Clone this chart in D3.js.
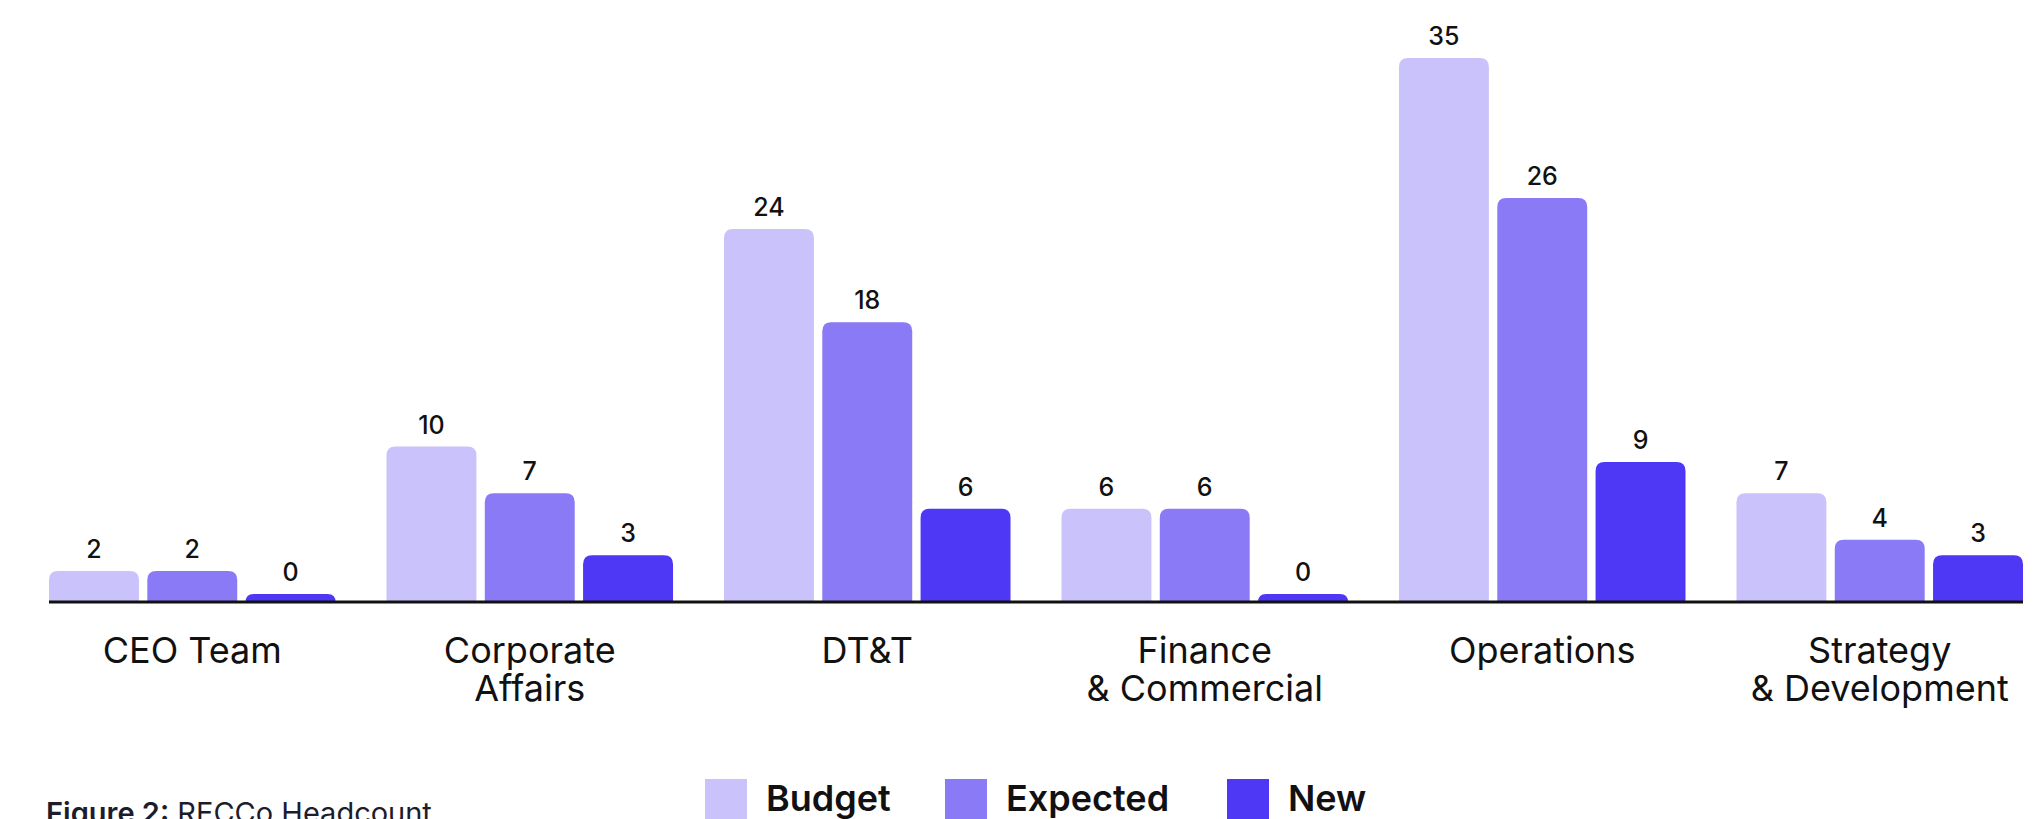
<!DOCTYPE html>
<html>
<head>
<meta charset="utf-8">
<script src="https://cdn.jsdelivr.net/npm/d3@7"></script>
<style>
  html, body { margin: 0; padding: 0; background: #fff; }
  svg { display: block; font-family: Inter, "Noto Sans", sans-serif; }
</style>
</head>
<body>
<svg id="chart" width="2043" height="819"></svg>
<script>
// headcount by business unit
const categories = ["CEO Team", "Corporate Affairs", "DT&T", "Finance & Commercial", "Operations", "Strategy & Development"];
const categoryLines = [["CEO Team"], ["Corporate", "Affairs"], ["DT&T"], ["Finance", "& Commercial"], ["Operations"], ["Strategy", "& Development"]];
const seriesNames = ["Budget", "Expected", "New"];
const budget = [2, 10, 24, 6, 35, 7];
const expected = [2, 7, 18, 6, 26, 4];
const newHires = [0, 3, 6, 0, 9, 3];
const colors = ["#cac3fb", "#8b7af6", "#4e37f5"];

const svg = d3.select("#chart");
const baseY = 602;

const x0 = d3.scaleBand()
    .domain(categories)
    .range([49, 2023])
    .paddingInner(0.151)
    .paddingOuter(0);

const x1 = d3.scaleBand()
    .domain(seriesNames)
    .range([0, x0.bandwidth()])
    .paddingInner(0.085);

const y = d3.scaleLinear()
    .domain([0, 35])
    .range([baseY, 58]);

const rows = categories.map((c, i) => ({
    cat: c,
    values: [budget[i], expected[i], newHires[i]]
}));

// bar with rounded top corners
function topRounded(x, yTop, w, h, r) {
    r = Math.min(r, h, w / 2);
    return `M${x},${yTop + h}V${yTop + r}Q${x},${yTop} ${x + r},${yTop}` +
        `H${x + w - r}Q${x + w},${yTop} ${x + w},${yTop + r}V${yTop + h}Z`;
}

const groups = svg.append("g").selectAll("g")
    .data(rows)
    .join("g")
    .attr("transform", d => `translate(${x0(d.cat)},0)`);

const minStub = 8;

groups.selectAll("path")
    .data(d => d.values.map((v, j) => ({ v, name: seriesNames[j], j })))
    .join("path")
    .attr("fill", d => colors[d.j])
    .attr("d", d => {
        const top = Math.min(y(d.v), baseY - minStub);
        return topRounded(x1(d.name), top, x1.bandwidth(), baseY - top, 9);
    });

groups.selectAll("text.val")
    .data(d => d.values.map((v, j) => ({ v, name: seriesNames[j], j })))
    .join("text")
    .attr("class", "val")
    .attr("x", d => x1(d.name) + x1.bandwidth() / 2)
    .attr("y", d => Math.min(y(d.v), baseY - minStub) - 13)
    .attr("text-anchor", "middle")
    .attr("font-size", 25)
    .attr("font-weight", 500)
    .attr("fill", "#111")
    .text(d => d.v);

// baseline
svg.append("line")
    .attr("x1", 49).attr("x2", 2023)
    .attr("y1", baseY).attr("y2", baseY)
    .attr("stroke", "#111")
    .attr("stroke-width", 3);

// category labels
const catLabels = svg.append("g").selectAll("text")
    .data(categories)
    .join("text")
    .attr("x", d => x0(d) + x0.bandwidth() / 2)
    .attr("y", 663)
    .attr("text-anchor", "middle")
    .attr("font-size", 36)
    .attr("fill", "#111");

catLabels.selectAll("tspan")
    .data((d, i) => categoryLines[i])
    .join("tspan")
    .attr("x", function () { return d3.select(this.parentNode).attr("x"); })
    .attr("dy", (d, i) => i === 0 ? 0 : 38)
    .text(d => d);

// legend
const legendX = [705, 945, 1227];
const legend = svg.append("g").selectAll("g")
    .data(seriesNames)
    .join("g")
    .attr("transform", (d, i) => `translate(${legendX[i]},779)`);

legend.append("rect")
    .attr("width", 42).attr("height", 42)
    .attr("fill", (d, i) => colors[i]);

legend.append("text")
    .attr("x", 61)
    .attr("y", 32)
    .attr("font-size", 36)
    .attr("font-weight", 600)
    .attr("fill", "#111")
    .text(d => d);

// caption
const cap = svg.append("text")
    .attr("x", 46)
    .attr("y", 823)
    .attr("font-size", 29)
    .attr("fill", "#1c1c2c");
cap.append("tspan").attr("font-weight", 600).text("Figure 2:");
cap.append("tspan").text(" RECCo Headcount");
</script>
</body>
</html>
